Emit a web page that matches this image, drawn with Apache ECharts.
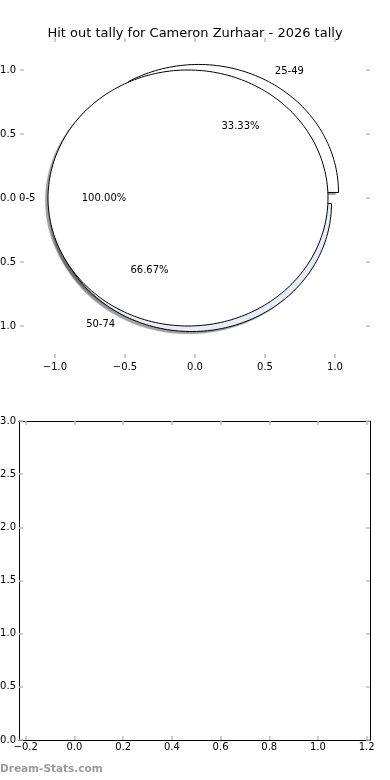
<!DOCTYPE html>
<html>
<head>
<meta charset="utf-8">
<style>
  html, body { margin: 0; padding: 0; background: #fff; }
  #chart { width: 390px; height: 780px; }
</style>
<script src="https://cdn.jsdelivr.net/npm/echarts@6/dist/echarts.min.js"></script>
</head>
<body>
<div id="chart"></div>
<script>
// ---- data ----
const titleText = 'Hit out tally for Cameron Zurhaar - 2026 tally';
const categories = ['0-5', '25-49', '50-74'];
const sharesPct = [100.00, 33.33, 66.67];     // share of the full turn for each wedge
const pieGroup = [0, 1, 1];                    // wedges in the same group are stacked around the circle
const wedgeColors = ['#ffffff', '#ffffff', '#e6ecf9'];
const drawOrder = [1, 2, 0];
const pieTicks = [-1.0, -0.5, 0.0, 0.5, 1.0];
const barXTicks = [-0.2, 0.0, 0.2, 0.4, 0.6, 0.8, 1.0, 1.2];
const barYTicks = [0.0, 0.5, 1.0, 1.5, 2.0, 2.5, 3.0];
const watermark = 'Dream-Stats.com';

// ---- geometry derived from shares ----
const explode = 0.05;
const labelDist = 1.09;
const pctDist = 0.6;
const geom = [];
const groupCum = {};
categories.forEach((c, i) => {
  const g = pieGroup[i];
  const start = (groupCum[g] || 0);
  groupCum[g] = start + sharesPct[i];
  const a1 = start * 3.6, a2 = (start + sharesPct[i]) * 3.6;
  const mid = (a1 + a2) / 2 * Math.PI / 180;
  geom.push({
    a1: a1 * Math.PI / 180, a2: a2 * Math.PI / 180, mid: mid,
    full: sharesPct[i] >= 100,
    cx: explode * Math.cos(mid), cy: explode * Math.sin(mid)
  });
});

const FONT = 'DejaVu Sans, Liberation Sans, sans-serif';
const fmt = v => (Math.round(v * 10) / 10).toFixed(1).replace('-', '\u2212');

function wedgePts(api, i, dx, dy) {
  const g = geom[i];
  const cx = g.cx + dx, cy = g.cy + dy;
  const pts = [];
  if (!g.full) pts.push(api.coord([cx, cy]));
  const n = Math.max(16, Math.ceil((g.a2 - g.a1) * 180 / Math.PI / 1.5));
  for (let k = 0; k <= n; k++) {
    const a = g.a1 + (g.a2 - g.a1) * k / n;
    pts.push(api.coord([cx + Math.cos(a), cy + Math.sin(a)]));
  }
  return pts;
}

const hiddenLine = { show: true, onZero: false, lineStyle: { color: 'rgba(0,0,0,0)', width: 0.01 } };

function tickAxis(opts) {
  return Object.assign({
    type: 'value',
    splitLine: { show: false },
    axisLine: hiddenLine,
    axisTick: { show: true, inside: true, length: 4, customValues: opts.ticks,
      lineStyle: { color: '#bdbdbd', width: 1.5 } },
    axisLabel: { show: false }
  }, opts.extra);
}

function labelled(opts, margin) {
  return {
    show: true, customValues: opts.ticks, formatter: fmt, color: '#000',
    fontSize: 10, fontFamily: FONT, margin: margin
  };
}

const pieX = { ticks: pieTicks };
const chart = echarts.init(document.getElementById('chart'), null, { renderer: 'canvas' });

const boxLine = { show: true, onZero: false, lineStyle: { color: '#000', width: 1 } };

chart.setOption({
  animation: false,
  backgroundColor: '#fff',
  title: {
    text: titleText, left: 'center', top: 22,
    textStyle: { fontSize: 13, fontWeight: 'normal', color: '#000', fontFamily: FONT }
  },
  grid: [
    { left: 20, right: 20, top: 38, height: 320, containLabel: false, outerBoundsMode: 'none' },
    { left: 19, right: 20, top: 421, height: 319, containLabel: false, outerBoundsMode: 'none' }
  ],
  xAxis: [
    tickAxis({ ticks: pieTicks, extra: { gridIndex: 0, position: 'bottom', min: -1.25, max: 1.25,
      axisLabel: labelled(pieX, 4) } }),
    tickAxis({ ticks: pieTicks, extra: { gridIndex: 0, position: 'top', min: -1.25, max: 1.25 } }),
    tickAxis({ ticks: barXTicks, extra: { gridIndex: 1, position: 'bottom', min: -0.2275, max: 1.2135,
      axisLine: boxLine, axisLabel: labelled({ ticks: barXTicks }, 2) } }),
    tickAxis({ ticks: barXTicks, extra: { gridIndex: 1, position: 'top', min: -0.2275, max: 1.2135,
      axisLine: boxLine } })
  ],
  yAxis: [
    tickAxis({ ticks: pieTicks, extra: { gridIndex: 0, position: 'left', min: -1.25, max: 1.25,
      axisLabel: labelled(pieX, 4) } }),
    tickAxis({ ticks: pieTicks, extra: { gridIndex: 0, position: 'right', min: -1.25, max: 1.25 } }),
    tickAxis({ ticks: barYTicks, extra: { gridIndex: 1, position: 'left', min: 0, max: 3,
      axisLine: boxLine, axisLabel: labelled({ ticks: barYTicks }, 3) } }),
    tickAxis({ ticks: barYTicks, extra: { gridIndex: 1, position: 'right', min: 0, max: 3,
      axisLine: boxLine } })
  ],
  graphic: [{
    type: 'text', left: 0, top: 764,
    style: { text: watermark, fill: '#9a9a9a', font: 'bold 10.5px ' + FONT }
  }],
  series: [
    {
      type: 'custom', xAxisIndex: 0, yAxisIndex: 0, z: 1, silent: true, clip: false,
      data: drawOrder.map(i => [i]),
      renderItem: function (params, api) {
        const i = api.value(0);
        return {
          type: 'polygon',
          shape: { points: wedgePts(api, i, -0.02, -0.02) },
          style: { fill: 'rgba(60,60,60,0.4)', stroke: 'none', shadowBlur: 2, shadowColor: 'rgba(60,60,60,0.35)' }
        };
      }
    },
    {
      type: 'custom', xAxisIndex: 0, yAxisIndex: 0, z: 2, silent: true, clip: false,
      data: drawOrder.map(i => [i]),
      renderItem: function (params, api) {
        const i = api.value(0);
        return {
          type: 'polygon',
          shape: { points: wedgePts(api, i, 0, 0) },
          style: { fill: wedgeColors[i], stroke: '#000', lineWidth: 1 }
        };
      }
    },
    {
      type: 'custom', xAxisIndex: 0, yAxisIndex: 0, z: 3, silent: true, clip: false,
      data: categories.map((c, i) => [i]),
      renderItem: function (params, api) {
        const i = api.value(0);
        const g = geom[i];
        const lx = g.cx + labelDist * Math.cos(g.mid), ly = g.cy + labelDist * Math.sin(g.mid);
        const px = g.cx + pctDist * Math.cos(g.mid), py = g.cy + pctDist * Math.sin(g.mid);
        const lp = api.coord([lx, ly]);
        const pp = api.coord([px, py]);
        return {
          type: 'group',
          children: [
            { type: 'text', x: lp[0], y: lp[1],
              style: { text: categories[i], fill: '#000', font: '10px ' + FONT,
                align: lx > 0 ? 'left' : 'right', verticalAlign: 'middle' } },
            { type: 'text', x: pp[0], y: pp[1],
              style: { text: sharesPct[i].toFixed(2) + '%', fill: '#000', font: '10px ' + FONT,
                align: 'center', verticalAlign: 'middle' } }
          ]
        };
      }
    },
    { type: 'line', xAxisIndex: 2, yAxisIndex: 2, data: [] }
  ]
});
</script>
</body>
</html>
